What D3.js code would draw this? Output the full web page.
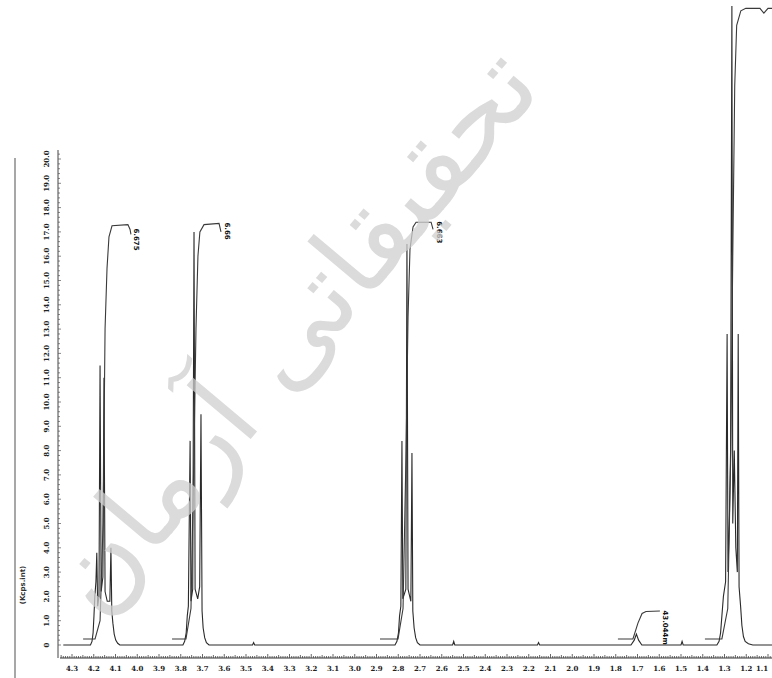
<!DOCTYPE html>
<html><head><meta charset="utf-8">
<script src="https://cdn.jsdelivr.net/npm/d3@7"></script>
<style>body{margin:0;background:#fff}svg{display:block}</style>
</head><body>
<script>
// ---------- data ----------
const xTickLabels = ["4.3","4.2","4.1","4.0","3.9","3.8","3.7","3.6","3.5","3.4","3.3","3.2","3.1","3.0","2.9","2.8","2.7","2.6","2.5","2.4","2.3","2.2","2.1","2.0","1.9","1.8","1.7","1.6","1.5","1.4","1.3","1.2","1.1"];
const yTickValues = [0,1,2,3,4,5,6,7,8,9,10,11,12,13,14,15,16,17,18,19,20];
const yAxisTitle = "(Kcps.int)";
// spectrum trace: [ppm, intensity]
const spectrum = [
 [4.34,0],[4.215,0],[4.208,0.15],[4.203,0.5],[4.199,1.2],[4.195,2.0],[4.190,2.6],[4.186,3.8],[4.182,1.6],[4.176,2.0],[4.171,11.5],[4.166,2.2],[4.158,2.8],[4.153,11.0],[4.148,2.2],[4.138,1.8],[4.126,1.8],[4.121,4.0],[4.117,1.4],[4.112,0.9],[4.106,0.45],[4.099,0.2],[4.090,0.07],[4.08,0],
 [3.79,0],[3.782,0.15],[3.775,0.5],[3.770,1.2],[3.765,1.6],[3.757,8.4],[3.753,1.8],[3.745,2.3],[3.739,17.0],[3.734,2.3],[3.722,1.9],[3.713,2.4],[3.707,9.5],[3.702,1.4],[3.697,0.7],[3.690,0.3],[3.682,0.1],[3.67,0],
 [3.47,0],[3.465,0.1],[3.46,0],
 [2.815,0],[2.806,0.15],[2.799,0.5],[2.794,1.2],[2.788,1.6],[2.783,8.4],[2.779,1.9],[2.765,2.3],[2.760,16.5],[2.755,2.3],[2.742,1.8],[2.737,7.9],[2.733,1.4],[2.727,0.7],[2.720,0.3],[2.712,0.1],[2.70,0],
 [2.55,0],[2.545,0.15],[2.54,0],[2.16,0],[2.155,0.1],[2.15,0],
 [1.73,0],[1.715,0.2],[1.705,0.45],[1.695,0.2],[1.68,0],[1.50,0],[1.495,0.15],[1.49,0],
 [1.335,0],[1.325,0.15],[1.318,0.5],[1.312,1.2],[1.305,2.0],[1.295,2.6],[1.288,12.8],[1.284,3],[1.278,5],[1.272,8],[1.266,26.3],[1.262,5],[1.255,8],[1.248,4],[1.241,3],[1.237,12.8],[1.233,2.4],[1.226,1.6],[1.220,0.8],[1.213,0.35],[1.205,0.15],[1.19,0.05],[1.17,0],[1.07,0]
];
// integral curves
const integral1 = [[4.249,0.25],[4.194,0.25],[4.171,1.0],[4.157,5.0],[4.148,13.0],[4.139,15.5],[4.130,16.8],[4.116,17.25],[4.043,17.3],[4.033,17.1],[4.029,16.9]];
const integral2 = [[3.840,0.25],[3.776,0.25],[3.753,1.5],[3.739,8.0],[3.730,13.0],[3.721,16.0],[3.712,17.0],[3.693,17.3],[3.624,17.35],[3.615,17.0]];
const integral3 = [[2.884,0.25],[2.801,0.25],[2.778,1.5],[2.764,8.0],[2.755,13.5],[2.746,16.3],[2.732,17.2],[2.718,17.4],[2.649,17.4],[2.640,17.1]];
const integral4 = [[1.790,0.25],[1.721,0.25],[1.698,0.9],[1.679,1.3],[1.661,1.38],[1.597,1.4]];
const integral5 = [[1.390,0.25],[1.312,0.25],[1.285,1.5],[1.271,8],[1.262,16],[1.253,23],[1.244,25.5],[1.225,26.1],[1.202,26.2],[1.137,26.2],[1.119,26.0],[1.10,26.2],[1.07,26.2]];
const integrals = [integral1, integral2, integral3, integral4, integral5];
const integralLabels = ["6.675","6.66","6.663","43.044m",""];
const watermark = "تحقیقاتی آرمان";

// ---------- drawing ----------
const W = 772, H = 678;
const svg = d3.select("body").append("svg").attr("width", W).attr("height", H);

const x = d3.scaleLinear().domain([4.3, 1.1]).range([72, 768]);
const y = d3.scaleLinear().domain([0, 20]).range([645, 159]);

// left frame line
svg.append("line").attr("x1",15).attr("x2",15).attr("y1",158).attr("y2",H)
  .attr("stroke","#8a8a8a").attr("stroke-width",1.5);

svg.append("defs").append("clipPath").attr("id","clip")
  .append("rect").attr("x",60).attr("y",0).attr("width",W-60).attr("height",655);

const plot = svg.append("g").attr("clip-path","url(#clip)");
const line = d3.line().x(d => x(d[0])).y(d => y(d[1]));

plot.append("path").datum(spectrum).attr("d", line)
  .attr("fill","none").attr("stroke","#2a2a2a").attr("stroke-width",1.1);

integrals.forEach((arr,i) => {
  plot.append("path").datum(arr).attr("d", line)
    .attr("fill","none").attr("stroke","#3a3a3a").attr("stroke-width",1.1);
  if (integralLabels[i]) {
    const last = arr[arr.length-1];
    const lx = x(last[0]) + 6, ly = y(arr[arr.length-2][1]) - 1;
    svg.append("text").attr("transform",`translate(${lx},${ly}) rotate(90)`)
      .attr("font-family","DejaVu Sans").attr("font-weight","bold").attr("font-size",7)
      .attr("dy","0.35em").attr("fill","#111").text(integralLabels[i]);
  }
});

// x axis
const xAxisG = svg.append("g").attr("transform","translate(0,658)");
xAxisG.append("line").attr("x1",60).attr("x2",W).attr("stroke","#333").attr("stroke-width",1.2);
const minorX = d3.range(435, 107, -1).map(v => v/100);
xAxisG.selectAll("line.mt").data(minorX).join("line").attr("class","mt")
  .attr("x1", d => x(d)).attr("x2", d => x(d))
  .attr("y1", 0).attr("y2", d => (Math.round(d*100)%10===0) ? -4 : (Math.round(d*100)%5===0 ? -3 : -2))
  .attr("stroke","#444").attr("stroke-width",0.8);
xAxisG.selectAll("text").data(xTickLabels).join("text")
  .attr("x", d => Math.min(x(+d), 762)).attr("y", 13)
  .attr("text-anchor","middle").attr("font-family","DejaVu Serif").attr("font-weight","bold")
  .attr("font-size",7).attr("fill","#222").text(d => d);

// y axis
const yAxisG = svg.append("g").attr("transform","translate(58,0)");
yAxisG.append("line").attr("y1",150).attr("y2",658).attr("stroke","#444").attr("stroke-width",1);
const minorY = d3.range(0, 102).map(v => v/5);
yAxisG.selectAll("line.mt").data(minorY).join("line").attr("class","mt")
  .attr("y1", d => y(d)).attr("y2", d => y(d))
  .attr("x1", 0).attr("x2", (d,i) => i%5===0 ? 3 : 2)
  .attr("stroke","#555").attr("stroke-width",0.7);
yAxisG.selectAll("text").data(yTickValues).join("text")
  .attr("transform", d => `translate(-11,${y(d)}) rotate(-90)`)
  .attr("text-anchor","middle").attr("dy","0.35em")
  .attr("font-family","DejaVu Serif").attr("font-weight","bold").attr("font-size",7)
  .attr("fill","#222").text(d => d === 0 ? "0" : d.toFixed(1));

svg.append("text").attr("transform","translate(23,585) rotate(-90)")
  .attr("text-anchor","middle").attr("dy","0.35em")
  .attr("font-family","DejaVu Sans").attr("font-weight","bold").attr("font-size",7)
  .attr("fill","#333").text(yAxisTitle);

// watermark
svg.append("text").attr("transform","translate(292,330) rotate(-50)")
  .attr("text-anchor","middle").attr("dy","0.35em")
  .attr("font-family","DejaVu Sans").attr("font-size",110)
  .attr("fill","#cfcfcf").attr("opacity",0.75).text(watermark);
</script>
</body></html>
